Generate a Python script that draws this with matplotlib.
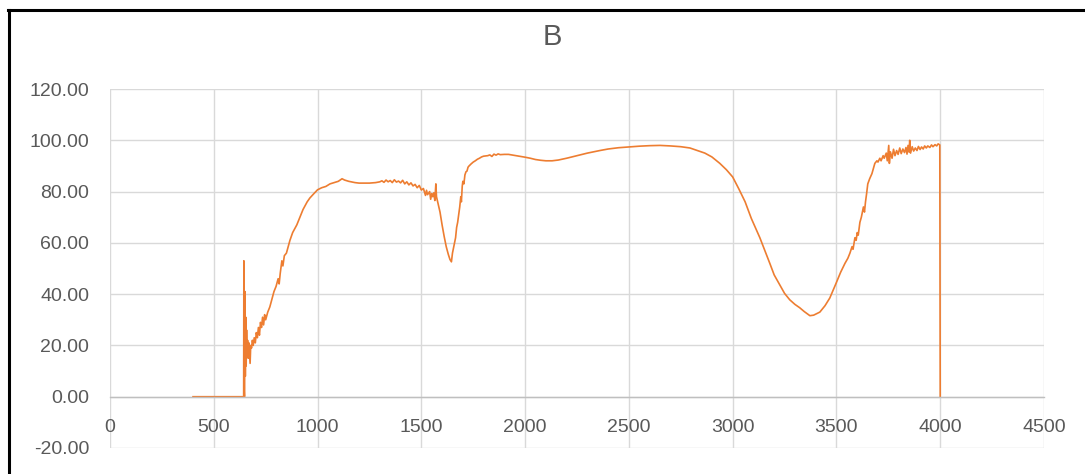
import matplotlib
matplotlib.use("Agg")
import matplotlib.pyplot as plt
from matplotlib.lines import Line2D
from matplotlib.ticker import FormatStrFormatter

# Spectrum values
wavenumber = [
    400, 500, 600, 644, 645, 647, 648, 650, 652, 654, 656, 658, 660, 663, 666,
    669, 672, 675, 678, 682, 686, 690, 695, 700, 705, 710, 715, 720, 725, 730,
    735, 740, 745, 750, 760, 770, 780, 790, 800, 810, 815, 820, 828, 833, 840,
    850, 867, 880, 900, 915, 930, 950, 963, 980, 1000, 1020, 1040, 1060, 1080,
    1100, 1118, 1130, 1150, 1180, 1200, 1250, 1280, 1300, 1310, 1320, 1330,
    1340, 1350, 1360, 1370, 1380, 1390, 1400, 1410, 1420, 1430, 1440, 1450,
    1460, 1470, 1480, 1490, 1500, 1510, 1520, 1525, 1530, 1540, 1545, 1550,
    1555, 1560, 1565, 1570, 1573, 1580, 1590, 1600, 1610, 1620, 1630, 1638,
    1645, 1650, 1655, 1660, 1665, 1670, 1675, 1680, 1685, 1690, 1693, 1697,
    1700, 1705, 1710, 1715, 1720, 1725, 1730, 1740, 1750, 1760, 1770, 1780,
    1790, 1800, 1820, 1830, 1840, 1850, 1860, 1870, 1880, 1900, 1920, 1950,
    1975, 2000, 2025, 2050, 2075, 2100, 2130, 2160, 2200, 2250, 2300, 2360,
    2400, 2450, 2500, 2550, 2600, 2650, 2700, 2750, 2794, 2830, 2866, 2900,
    2938, 2970, 3000, 3030, 3060, 3090, 3131, 3155, 3179, 3200, 3227, 3250,
    3275, 3300, 3323, 3345, 3372, 3390, 3420, 3445, 3468, 3497, 3520, 3541,
    3555, 3565, 3575, 3580, 3589, 3595, 3600, 3605, 3613, 3620, 3630, 3635,
    3640, 3645, 3651, 3660, 3671, 3678, 3685, 3695, 3700, 3709, 3715, 3725,
    3730, 3740, 3745, 3752, 3755, 3760, 3768, 3775, 3782, 3790, 3797, 3805,
    3812, 3820, 3828, 3835, 3840, 3845, 3850, 3853, 3857, 3865, 3872, 3880,
    3888, 3895, 3903, 3910, 3918, 3925, 3933, 3940, 3950, 3958, 3965, 3975,
    3983, 3990, 3998, 4000,
]
transmittance = [
    0, 0, 0, 0, 53, 2, 0, 41, 8, 31, 12, 26, 18, 22, 15,
    21, 17, 13, 20, 19, 22, 20, 23, 21, 25, 23, 27, 24, 29, 27,
    31, 28, 32, 30, 33, 35, 38, 41, 43, 46, 44, 48, 53, 51, 55,
    56, 61, 64, 67, 70, 73, 76, 77.5, 79, 80.7, 81.5, 82, 83, 83.5,
    84, 85, 84.5, 84, 83.5, 83.3, 83.3, 83.5, 83.8, 84.2, 83.6, 84.5,
    83.8, 84.3, 83.5, 84.6, 83.7, 84.1, 83.4, 84.4, 83.0, 83.8, 82.6, 83.4,
    82.2, 82.8, 81.5, 82.4, 80.6, 81.2, 78.5, 80.5, 78.8, 80.0, 77.0, 79.2,
    78.0, 79.5, 76.5, 83.0, 78, 75.5, 72, 67, 62.5, 58.5, 55.5, 53.5,
    52.6, 56, 58, 60, 62, 66, 68, 71, 74, 78, 76, 82,
    84, 83, 86.5, 87.7, 88, 89.5, 90, 90.8, 91.5, 92, 92.6, 93,
    93.5, 93.8, 94, 94.3, 93.7, 94.6, 94.2, 94.7, 94.4, 94.5, 94.5, 94.1,
    93.8, 93.4, 93, 92.5, 92.2, 92, 92, 92.3, 93, 94, 95, 96,
    96.6, 97.1, 97.4, 97.7, 97.9, 98, 97.8, 97.5, 97, 96, 95, 93.5,
    91, 88.5, 85.7, 81, 76, 69.5, 62, 57, 52, 47.5, 43.6, 40.3,
    37.8, 36, 34.7, 33.2, 31.6, 31.8, 33, 35.5, 38.5, 44, 48.5, 52,
    54, 56, 58.5, 57.5, 62, 61, 64, 63, 68, 70, 74, 72,
    76, 79, 83, 85, 87, 89, 91, 92, 91.5, 93, 92, 94,
    93, 95, 92, 98, 91, 95.5, 93, 96.5, 94, 96, 94.5, 97,
    94.8, 96.6, 95.2, 97.2, 94.6, 98, 95.4, 100, 95, 97.5, 95.8, 97.0,
    96.0, 97.6, 96.4, 97.4, 96.6, 97.8, 97.0, 97.8, 97.2, 98.2, 97.5, 98.3,
    97.8, 98.6, 98.2, 0,
]

x_ticks = [0, 500, 1000, 1500, 2000, 2500, 3000, 3500, 4000, 4500]
y_ticks = [-20, 0, 20, 40, 60, 80, 100, 120]

plt.rcParams["font.family"] = ["Liberation Sans", "DejaVu Sans"]
text_color = "#595959"

fig = plt.figure(figsize=(10.85, 4.74), dpi=100)
ax = fig.add_axes([110 / 1085, 1 - 448 / 474, 934 / 1085, 359 / 474])

ax.plot(wavenumber, transmittance, color="#ED7D31", linewidth=1.2)

ax.set_xlim(0, 4500)
ax.set_ylim(-20, 120)
ax.set_xticks(x_ticks)
ax.set_yticks(y_ticks)
ax.yaxis.set_major_formatter(FormatStrFormatter("%.2f"))
ax.grid(True, color="#D9D9D9", linewidth=1)
ax.set_axisbelow(True)

for side in ["top", "right", "left"]:
    ax.spines[side].set_visible(False)
ax.spines["bottom"].set_position(("data", 0))
ax.spines["bottom"].set_color("#BFBFBF")
ax.spines["bottom"].set_linewidth(1)

ax.tick_params(axis="x", length=0, pad=16, labelsize=14, labelcolor=text_color)
ax.tick_params(axis="y", length=0, pad=15, labelsize=14, labelcolor=text_color)

fig.text(552 / 1085, 1 - 37 / 474, "B", ha="center", va="center",
         fontsize=21, color=text_color)

# black frame on left and top edges
fig.add_artist(Line2D([9 / 1085, 9 / 1085], [0, 1 - 9.5 / 474], color="black",
                      linewidth=2.2, transform=fig.transFigure))
fig.add_artist(Line2D([8 / 1085, 1], [1 - 9.5 / 474, 1 - 9.5 / 474], color="black",
                      linewidth=2.2, transform=fig.transFigure))

fig.savefig("out.png", dpi=100)
